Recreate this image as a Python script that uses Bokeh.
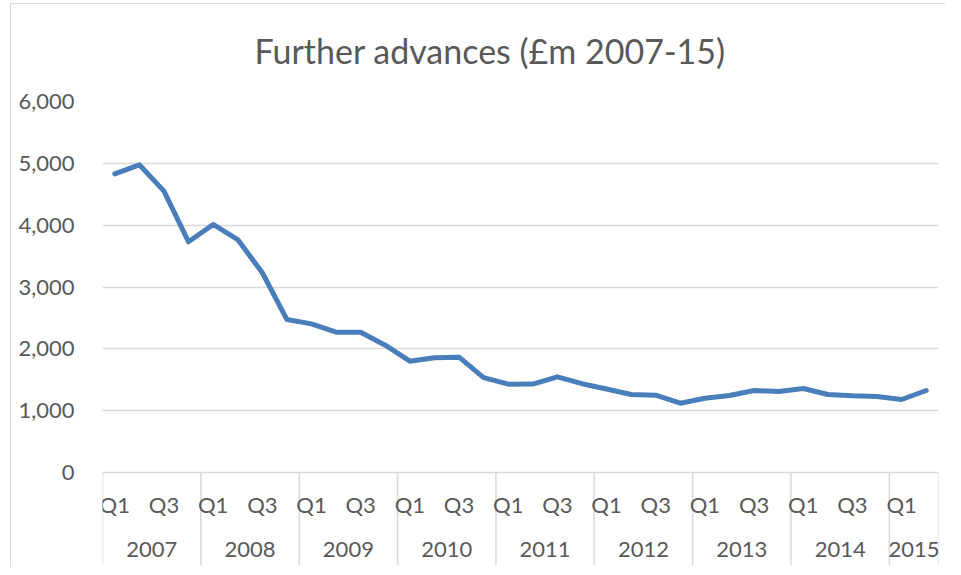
from bokeh.plotting import figure
from bokeh.models import Range1d, FixedTicker, NumeralTickFormatter, Title
from bokeh.core.properties import value
from bokeh.embed import file_html
from bokeh.resources import INLINE

# ---- data ----
years = ["2007", "2008", "2009", "2010", "2011", "2012", "2013", "2014", "2015"]
quarters_per_year = [4, 4, 4, 4, 4, 4, 4, 4, 2]
quarter_names = ["Q1", "Q2", "Q3", "Q4"]
shown_quarters = ["Q1", "Q3"]
advances = [4830, 4976, 4550, 3731, 4011, 3768, 3230, 2474,
            2404, 2269, 2269, 2059, 1800, 1855, 1865, 1535,
            1428, 1430, 1547, 1436, 1350, 1262, 1251, 1120,
            1202, 1245, 1326, 1310, 1358, 1262, 1240, 1229,
            1181, 1326]
y_ticks = [0, 1000, 2000, 3000, 4000, 5000, 6000]
title_text = "Further advances (£m 2007-15)"

TEXT = "#595959"
GRID = "#d9d9d9"
LINE = "#4a7ebb"
FONT = "Lato"

n = len(advances)
xs = [i + 0.5 for i in range(n)]

q_x, q_text = [], []
idx = 0
year_x, year_bounds = [], [0]
for y, cnt in zip(years, quarters_per_year):
    for k in range(cnt):
        if quarter_names[k] in shown_quarters:
            q_x.append(idx + k + 0.5)
            q_text.append(quarter_names[k])
    year_x.append(idx + cnt / 2)
    idx += cnt
    year_bounds.append(idx)

W, H = 945, 567
YMIN = -1504
p = figure(width=W, height=H, output_backend="svg", toolbar_location=None,
           x_range=Range1d(0, n), y_range=Range1d(YMIN, 6000),
           min_border_left=102, min_border_right=7, min_border_top=101,
           min_border_bottom=2, tools="", title=None)
p.outline_line_color = None
p.background_fill_color = "white"
p.border_fill_color = None
p.styles = {
    "background": "linear-gradient(#d9d9d9,#d9d9d9) 10px 3px / 1px 100% no-repeat, "
                  "linear-gradient(#d9d9d9,#d9d9d9) 10px 3px / 100% 1px no-repeat, white",
}
p.xaxis.visible = False
p.xgrid.visible = False

yax = p.yaxis[0]
yax.ticker = FixedTicker(ticks=y_ticks)
yax.formatter = NumeralTickFormatter(format="0,0")
yax.axis_line_color = None
yax.major_tick_line_color = None
yax.minor_tick_line_color = None
yax.major_label_standoff = 22
yax.major_label_text_font = FONT
yax.major_label_text_font_size = "22px"
yax.major_label_text_color = TEXT

p.ygrid.ticker = FixedTicker(ticks=y_ticks)
p.ygrid.grid_line_color = GRID
p.ygrid.grid_line_width = 1.5

p.segment(x0=year_bounds, x1=year_bounds, y0=[0] * len(year_bounds),
          y1=[YMIN] * len(year_bounds), line_color=GRID, line_width=1.5)

p.line(xs, advances, line_color=LINE, line_width=5, line_join="round", line_cap="round")

p.text(x=q_x, y=[-520] * len(q_x), text=q_text, text_font=value(FONT),
       text_font_size="22px", text_color=TEXT, text_align="center",
       text_baseline="middle")
p.text(x=year_x, y=[-1245] * len(year_x), text=years, text_font=value(FONT),
       text_font_size="22px", text_color=TEXT, text_align="center",
       text_baseline="middle")

t = Title(text=title_text, text_font=FONT, text_font_size="34px", text_color=TEXT,
          text_font_style="normal", align="left", offset=152, standoff=58,
          vertical_align="top")
p.add_layout(t, "above")

open("out.html", "w").write(file_html(p, INLINE))
